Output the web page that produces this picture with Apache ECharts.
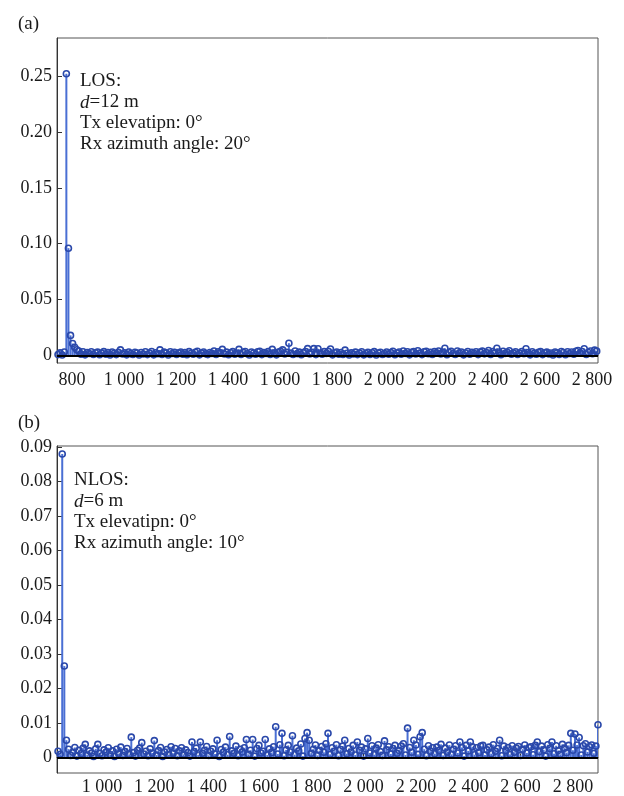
<!DOCTYPE html>
<html>
<head>
<meta charset="utf-8">
<script src="https://cdn.jsdelivr.net/npm/echarts@6/dist/echarts.min.js"></script>
<style>
  html, body { margin: 0; padding: 0; background: #fff; }
  #main { width: 624px; height: 796px; }
</style>
</head>
<body>
<div id="main"></div>
<script>
// (a) LOS: sample grid + amplitudes
var losStart = 746, losStep = 8;
var losValues = [
  0.0008, 0.0024, 0.0005, 0.0031, 0.2520, 0.0960, 0.0180, 0.0107, 0.0074, 0.0052, 0.0041, 0.0012, 0.0033, 0.0006, 0.0027, 0.0018, 0.0034, 0.0009, 0.0025, 0.0030,
  0.0007, 0.0021, 0.0035, 0.0011, 0.0026, 0.0004, 0.0031, 0.0019, 0.0008, 0.0028, 0.0050, 0.0013, 0.0024, 0.0006, 0.0032, 0.0017, 0.0009, 0.0029, 0.0022, 0.0005,
  0.0027, 0.0014, 0.0033, 0.0008, 0.0021, 0.0036, 0.0006, 0.0025, 0.0016, 0.0050, 0.0010, 0.0030, 0.0023, 0.0005, 0.0034, 0.0018, 0.0028, 0.0009, 0.0024, 0.0031,
  0.0012, 0.0026, 0.0007, 0.0035, 0.0020, 0.0011, 0.0029, 0.0038, 0.0006, 0.0022, 0.0032, 0.0015, 0.0008, 0.0027, 0.0019, 0.0040, 0.0010, 0.0033, 0.0024, 0.0055,
  0.0014, 0.0030, 0.0007, 0.0025, 0.0035, 0.0012, 0.0021, 0.0055, 0.0009, 0.0028, 0.0036, 0.0016, 0.0005, 0.0031, 0.0023, 0.0011, 0.0034, 0.0038, 0.0008, 0.0026,
  0.0019, 0.0035, 0.0010, 0.0055, 0.0024, 0.0006, 0.0032, 0.0037, 0.0050, 0.0013, 0.0028, 0.0110, 0.0021, 0.0009, 0.0040, 0.0017, 0.0030, 0.0007, 0.0026, 0.0036,
  0.0062, 0.0014, 0.0029, 0.0062, 0.0008, 0.0060, 0.0023, 0.0011, 0.0035, 0.0019, 0.0038, 0.0058, 0.0006, 0.0025, 0.0032, 0.0012, 0.0027, 0.0009, 0.0048, 0.0020,
  0.0005, 0.0024, 0.0013, 0.0030, 0.0008, 0.0021, 0.0034, 0.0006, 0.0018, 0.0028, 0.0010, 0.0025, 0.0035, 0.0004, 0.0022, 0.0029, 0.0009, 0.0017, 0.0031, 0.0012,
  0.0026, 0.0038, 0.0007, 0.0023, 0.0032, 0.0011, 0.0040, 0.0019, 0.0034, 0.0006, 0.0028, 0.0036, 0.0014, 0.0042, 0.0021, 0.0008, 0.0033, 0.0038, 0.0016, 0.0029,
  0.0010, 0.0035, 0.0024, 0.0040, 0.0013, 0.0030, 0.0065, 0.0007, 0.0027, 0.0037, 0.0018, 0.0009, 0.0041, 0.0025, 0.0032, 0.0006, 0.0022, 0.0036, 0.0011, 0.0029,
  0.0020, 0.0034, 0.0008, 0.0030, 0.0039, 0.0015, 0.0026, 0.0045, 0.0010, 0.0035, 0.0023, 0.0065, 0.0031, 0.0007, 0.0038, 0.0019, 0.0028, 0.0042, 0.0012, 0.0024,
  0.0034, 0.0009, 0.0021, 0.0036, 0.0016, 0.0060, 0.0027, 0.0006, 0.0033, 0.0019, 0.0011, 0.0028, 0.0035, 0.0008, 0.0025, 0.0030, 0.0013, 0.0022, 0.0005, 0.0031,
  0.0024, 0.0010, 0.0036, 0.0027, 0.0007, 0.0034, 0.0018, 0.0031, 0.0012, 0.0038, 0.0045, 0.0021, 0.0036, 0.0060, 0.0009, 0.0027, 0.0041, 0.0016, 0.0048, 0.0039
];

// (b) NLOS
var nlosStart = 832, nlosStep = 8;
var nlosValues = [
  0.0018, 0.0009, 0.0880, 0.0265, 0.0050, 0.0024, 0.0006, 0.0015, 0.0029, 0.0004, 0.0021, 0.0011, 0.0027, 0.0038, 0.0007, 0.0019, 0.0013, 0.0003, 0.0025, 0.0038,
  0.0012, 0.0005, 0.0022, 0.0016, 0.0028, 0.0008, 0.0019, 0.0003, 0.0024, 0.0011, 0.0030, 0.0006, 0.0017, 0.0026, 0.0009, 0.0059, 0.0014, 0.0004, 0.0021, 0.0027,
  0.0043, 0.0010, 0.0018, 0.0005, 0.0025, 0.0013, 0.0049, 0.0007, 0.0020, 0.0029, 0.0003, 0.0016, 0.0023, 0.0008, 0.0031, 0.0012, 0.0026, 0.0005, 0.0019, 0.0028,
  0.0009, 0.0022, 0.0014, 0.0004, 0.0045, 0.0017, 0.0027, 0.0007, 0.0045, 0.0012, 0.0021, 0.0032, 0.0006, 0.0018, 0.0025, 0.0010, 0.0050, 0.0003, 0.0023, 0.0015,
  0.0030, 0.0008, 0.0061, 0.0019, 0.0012, 0.0033, 0.0005, 0.0024, 0.0016, 0.0028, 0.0052, 0.0009, 0.0021, 0.0052, 0.0004, 0.0026, 0.0035, 0.0013, 0.0018, 0.0052,
  0.0007, 0.0025, 0.0014, 0.0031, 0.0089, 0.0010, 0.0037, 0.0070, 0.0005, 0.0022, 0.0035, 0.0016, 0.0063, 0.0008, 0.0027, 0.0019, 0.0039, 0.0004, 0.0055, 0.0072,
  0.0050, 0.0012, 0.0024, 0.0036, 0.0006, 0.0020, 0.0032, 0.0015, 0.0040, 0.0070, 0.0009, 0.0028, 0.0018, 0.0037, 0.0005, 0.0023, 0.0033, 0.0050, 0.0011, 0.0026,
  0.0016, 0.0035, 0.0007, 0.0045, 0.0021, 0.0030, 0.0004, 0.0025, 0.0055, 0.0013, 0.0034, 0.0008, 0.0027, 0.0037, 0.0017, 0.0006, 0.0048, 0.0022, 0.0031, 0.0010,
  0.0026, 0.0035, 0.0012, 0.0020, 0.0033, 0.0040, 0.0007, 0.0085, 0.0029, 0.0015, 0.0050, 0.0036, 0.0009, 0.0060, 0.0072, 0.0024, 0.0005, 0.0034, 0.0018, 0.0028,
  0.0011, 0.0030, 0.0020, 0.0038, 0.0006, 0.0027, 0.0016, 0.0036, 0.0009, 0.0024, 0.0034, 0.0013, 0.0045, 0.0029, 0.0004, 0.0035, 0.0019, 0.0045, 0.0031, 0.0008,
  0.0028, 0.0014, 0.0033, 0.0035, 0.0007, 0.0022, 0.0030, 0.0011, 0.0037, 0.0018, 0.0026, 0.0050, 0.0005, 0.0033, 0.0020, 0.0029, 0.0009, 0.0034, 0.0015, 0.0027,
  0.0032, 0.0006, 0.0024, 0.0036, 0.0013, 0.0029, 0.0031, 0.0008, 0.0035, 0.0045, 0.0017, 0.0033, 0.0022, 0.0004, 0.0037, 0.0026, 0.0045, 0.0011, 0.0034, 0.0020,
  0.0009, 0.0038, 0.0027, 0.0014, 0.0035, 0.0070, 0.0021, 0.0068, 0.0036, 0.0058, 0.0007, 0.0034, 0.0040, 0.0016, 0.0031, 0.0036, 0.0012, 0.0033, 0.0095
];

var losXTicks = [800, 1000, 1200, 1400, 1600, 1800, 2000, 2200, 2400, 2600, 2800];
var nlosXTicks = [1000, 1200, 1400, 1600, 1800, 2000, 2200, 2400, 2600, 2800];
var losYTicks = [0, 0.05, 0.10, 0.15, 0.20, 0.25];
var nlosYTicks = [0, 0.01, 0.02, 0.03, 0.04, 0.05, 0.06, 0.07, 0.08, 0.09];

var FONT = 'Liberation Serif';
var stemColor = '#4a6fd4';
var markColor = '#2a48aa';

function toPairs(start, step, vals) {
  return vals.map(function (v, i) { return [start + i * step, v]; });
}

function fmtX(v) {
  if (v < 1000) return String(v);
  var r = String(v % 1000);
  while (r.length < 3) r = '0' + r;
  return Math.floor(v / 1000) + ' ' + r;
}
function fmtY(v) { return v === 0 ? '0' : v.toFixed(2); }

function stemItem(params, api) {
  var p0 = api.coord([api.value(0), 0]);
  var p1 = api.coord([api.value(0), api.value(1)]);
  return {
    type: 'line',
    shape: { x1: p0[0], y1: p0[1], x2: p1[0], y2: p1[1] },
    style: { stroke: stemColor, lineWidth: 2 }
  };
}

function xAxis(idx, min, max, ticks, margin) {
  return {
    type: 'value', gridIndex: idx, min: min, max: max,
    axisLine: { show: true, lineStyle: { color: '#333', width: 1 } },
    axisTick: { show: true, inside: true, length: 4, customValues: ticks, lineStyle: { color: '#333' } },
    axisLabel: { customValues: ticks, formatter: fmtX, fontFamily: FONT, fontSize: 18, color: '#1a1a1a', margin: margin },
    splitLine: { show: false }
  };
}
function yAxis(idx, min, max, ticks) {
  return {
    type: 'value', gridIndex: idx, min: min, max: max,
    axisLine: { show: true, lineStyle: { color: '#333', width: 1 } },
    axisTick: { show: true, inside: true, length: 5, customValues: ticks, lineStyle: { color: '#333' } },
    axisLabel: { customValues: ticks, formatter: fmtY, fontFamily: FONT, fontSize: 18, color: '#1a1a1a', margin: 5 },
    splitLine: { show: false }
  };
}

function stems(idx, data) {
  return {
    type: 'custom', xAxisIndex: idx, yAxisIndex: idx,
    renderItem: stemItem, encode: { x: 0, y: 1 }, data: data, clip: true, silent: true
  };
}
function marks(idx, data) {
  return {
    type: 'scatter', xAxisIndex: idx, yAxisIndex: idx, data: data,
    symbol: 'circle', symbolSize: 6, silent: true, z: 3,
    itemStyle: { color: 'rgba(0,0,0,0)', borderColor: markColor, borderWidth: 1.6, opacity: 1 },
    markLine: {
      silent: true, symbol: 'none', label: { show: false }, animation: false,
      lineStyle: { color: '#000', width: 2, type: 'solid' },
      data: [{ yAxis: 0 }]
    }
  };
}

var losData = toPairs(losStart, losStep, losValues);
var nlosData = toPairs(nlosStart, nlosStep, nlosValues);

var chart = echarts.init(document.getElementById('main'), null, { renderer: 'canvas' });

var textStyle = {
  fontFamily: FONT, fontSize: 19, fontWeight: 'normal', color: '#1a1a1a', lineHeight: 21,
  rich: {
    n: { fontFamily: FONT, fontSize: 19, color: '#1a1a1a', lineHeight: 21 },
    i: { fontFamily: FONT, fontSize: 19, color: '#1a1a1a', fontStyle: 'italic', lineHeight: 21 }
  }
};

var option = {
  animation: false,
  backgroundColor: '#fff',
  title: [
    { text: '(a)', left: 13, top: 10, textStyle: { fontFamily: FONT, fontSize: 19, fontWeight: 'normal', color: '#1a1a1a' } },
    { text: '(b)', left: 13, top: 409, textStyle: { fontFamily: FONT, fontSize: 19, fontWeight: 'normal', color: '#1a1a1a' } },
    { text: '{n|LOS:}\n{i|d}{n|=12 m}\n{n|Tx elevatipn: 0°}\n{n|Rx azimuth angle: 20°}', left: 80, top: 71, padding: 0, textStyle: textStyle },
    { text: '{n|NLOS:}\n{i|d}{n|=6 m}\n{n|Tx elevatipn: 0°}\n{n|Rx azimuth angle: 10°}', left: 74, top: 470, padding: 0, textStyle: textStyle }
  ],
  grid: [
    { left: 57, right: 26, top: 38, height: 325, show: true, borderColor: '#555', borderWidth: 1, backgroundColor: 'transparent' },
    { left: 57, right: 26, top: 446, height: 328, show: true, borderColor: '#555', borderWidth: 1, backgroundColor: 'transparent' }
  ],
  xAxis: [
    xAxis(0, 742, 2823, losXTicks, 8),
    xAxis(1, 828, 2896, nlosXTicks, 5)
  ],
  yAxis: [
    yAxis(0, -0.0067, 0.284, losYTicks),
    yAxis(1, -0.0045, 0.0903, nlosYTicks)
  ],
  series: [
    stems(0, losData), marks(0, losData),
    stems(1, nlosData), marks(1, nlosData)
  ]
};

chart.setOption(option);
</script>
</body>
</html>
